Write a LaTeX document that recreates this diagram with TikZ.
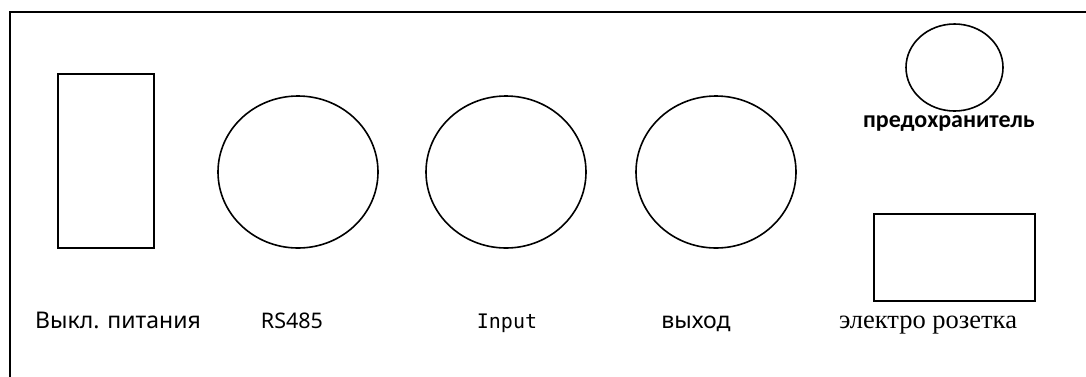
\documentclass[tikz,border=0pt]{standalone}
\usepackage{fontspec}
\setmainfont{Noto Sans}
\newfontfamily\boldlabel{Carlito}
\newfontfamily\seriflabel{Liberation Serif}
\newfontfamily\monolabel{DejaVu Sans Mono}
\usetikzlibrary{shapes.geometric}
\tikzset{port/.style={ellipse, draw=black, line width=1.6pt, minimum width=160pt, minimum height=152pt, inner sep=0pt},
box/.style={rectangle, draw=black, line width=1.6pt, inner sep=0pt},
label/.style={anchor=base, inner sep=0pt, font=\fontsize{23}{26}\selectfont}}

\begin{document}
\begin{tikzpicture}[x=1pt,y=-1pt]
\useasboundingbox (0,0) rectangle (1086,376);
% panel frame, cut off at right and bottom
\begin{scope}
\clip (0,0) rectangle (1086,376);
\draw[line width=1.6pt] (10,12) rectangle (1100,400);
\end{scope}

% switch and ports
\node[box, minimum width=96pt, minimum height=174pt] (switch) at (106,161) {};
\node[port] (rs) at (298,172) {};
\node[port] (input) at (506,172) {};
\node[port] (output) at (716,172) {};

% fuse and socket
\node[port, minimum width=97pt, minimum height=87pt] (fuse) at (954.5,67.5) {};
\node[box, minimum width=161pt, minimum height=87pt] (socket) at (954.5,257.5) {};

%labels
\node[label] (switchtext) at (118,328) {Выкл. питания};
\node[label, font=\fontsize{21.5}{24}\selectfont] (rstext) at (292,328) {RS485};
\node[label, font=\monolabel\fontsize{20}{24}\selectfont] (inputtext) at (507,328) {Input};
\node[label] (outputtext) at (696,328) {выход};
\node[label, font=\boldlabel\bfseries\fontsize{24}{27}\selectfont] (fusetext) at (949,127) {предохранитель};
\node[label, font=\seriflabel\fontsize{26.5}{30}\selectfont] (sockettext) at (928,328) {электро розетка};
\end{tikzpicture}
\end{document}
